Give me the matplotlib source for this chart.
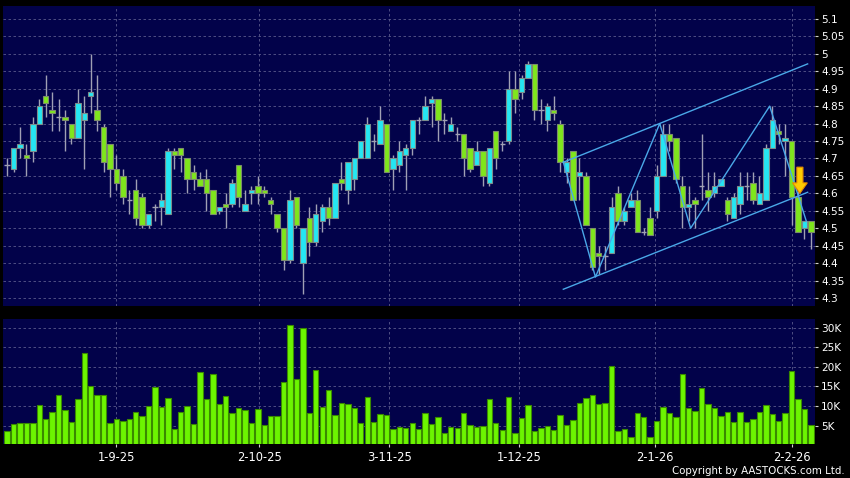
import numpy as np
import matplotlib.pyplot as plt
from matplotlib.patches import FancyArrow

# daily OHLC (126 sessions)
opens = [4.68, 4.67, 4.73, 4.71, 4.72, 4.80, 4.88, 4.84, 4.82, 4.82,
         4.80, 4.76, 4.81, 4.88, 4.84, 4.79, 4.74, 4.67, 4.65, 4.58,
         4.61, 4.59, 4.51, 4.56, 4.56, 4.54, 4.72, 4.73, 4.70, 4.66,
         4.64, 4.64, 4.61, 4.55, 4.57, 4.57, 4.68, 4.55, 4.60, 4.62,
         4.61, 4.58, 4.54, 4.50, 4.41, 4.59, 4.40, 4.53, 4.46, 4.52,
         4.56, 4.53, 4.64, 4.61, 4.64, 4.70, 4.70, 4.75, 4.74, 4.80,
         4.67, 4.68, 4.71, 4.73, 4.81, 4.81, 4.86, 4.87, 4.81, 4.78,
         4.77, 4.77, 4.73, 4.68, 4.72, 4.63, 4.78, 4.74, 4.75, 4.90,
         4.89, 4.93, 4.97, 4.84, 4.81, 4.84, 4.80, 4.66, 4.72, 4.65,
         4.65, 4.50, 4.43, 4.42, 4.43, 4.60, 4.52, 4.56, 4.58, 4.49,
         4.53, 4.55, 4.65, 4.77, 4.76, 4.62, 4.56, 4.58, 4.62, 4.61,
         4.60, 4.62, 4.58, 4.53, 4.57, 4.62, 4.63, 4.57, 4.58, 4.73,
         4.78, 4.75, 4.75, 4.59, 4.50, 4.52]
highs = [4.70, 4.73, 4.79, 4.74, 4.82, 4.87, 4.94, 4.89, 4.87, 4.84,
         4.80, 4.90, 4.88, 5.00, 4.94, 4.80, 4.74, 4.71, 4.67, 4.61,
         4.64, 4.60, 4.54, 4.57, 4.60, 4.73, 4.73, 4.73, 4.70, 4.68,
         4.66, 4.67, 4.61, 4.56, 4.60, 4.64, 4.68, 4.61, 4.62, 4.65,
         4.62, 4.59, 4.54, 4.50, 4.61, 4.59, 4.50, 4.56, 4.57, 4.57,
         4.59, 4.63, 4.69, 4.69, 4.70, 4.75, 4.82, 4.77, 4.85, 4.80,
         4.71, 4.75, 4.74, 4.81, 4.82, 4.88, 4.88, 4.87, 4.83, 4.82,
         4.79, 4.77, 4.73, 4.75, 4.72, 4.73, 4.78, 4.75, 4.95, 4.95,
         4.94, 4.98, 4.97, 4.87, 4.86, 4.88, 4.81, 4.70, 4.72, 4.70,
         4.66, 4.50, 4.45, 4.45, 4.59, 4.62, 4.56, 4.60, 4.61, 4.50,
         4.56, 4.68, 4.80, 4.80, 4.76, 4.65, 4.62, 4.59, 4.77, 4.66,
         4.66, 4.64, 4.59, 4.60, 4.66, 4.66, 4.66, 4.65, 4.74, 4.85,
         4.80, 4.80, 4.75, 4.62, 4.52, 4.52]
lows = [4.65, 4.66, 4.70, 4.65, 4.69, 4.80, 4.82, 4.78, 4.78, 4.72,
        4.74, 4.76, 4.67, 4.83, 4.78, 4.66, 4.59, 4.61, 4.57, 4.54,
        4.51, 4.50, 4.50, 4.52, 4.51, 4.54, 4.67, 4.66, 4.60, 4.61,
        4.62, 4.55, 4.54, 4.54, 4.50, 4.56, 4.56, 4.55, 4.57, 4.57,
        4.59, 4.54, 4.49, 4.38, 4.40, 4.50, 4.31, 4.42, 4.45, 4.49,
        4.51, 4.53, 4.61, 4.57, 4.61, 4.70, 4.70, 4.72, 4.74, 4.66,
        4.61, 4.66, 4.61, 4.71, 4.77, 4.81, 4.79, 4.75, 4.77, 4.78,
        4.75, 4.65, 4.66, 4.68, 4.62, 4.62, 4.67, 4.72, 4.74, 4.83,
        4.87, 4.93, 4.81, 4.80, 4.78, 4.81, 4.66, 4.63, 4.58, 4.58,
        4.51, 4.38, 4.37, 4.38, 4.43, 4.51, 4.51, 4.56, 4.49, 4.48,
        4.48, 4.53, 4.65, 4.72, 4.63, 4.50, 4.52, 4.50, 4.58, 4.55,
        4.59, 4.62, 4.52, 4.53, 4.54, 4.58, 4.57, 4.57, 4.58, 4.73,
        4.74, 4.65, 4.51, 4.49, 4.47, 4.44]
closes = [4.68, 4.73, 4.74, 4.70, 4.80, 4.85, 4.86, 4.83, 4.82, 4.81,
          4.76, 4.86, 4.83, 4.89, 4.81, 4.69, 4.67, 4.63, 4.59, 4.58,
          4.53, 4.51, 4.54, 4.56, 4.58, 4.72, 4.71, 4.71, 4.64, 4.64,
          4.62, 4.60, 4.54, 4.56, 4.56, 4.63, 4.59, 4.57, 4.61, 4.60,
          4.60, 4.57, 4.50, 4.41, 4.58, 4.51, 4.50, 4.46, 4.54, 4.56,
          4.53, 4.63, 4.63, 4.69, 4.70, 4.75, 4.80, 4.75, 4.81, 4.66,
          4.70, 4.72, 4.73, 4.81, 4.81, 4.85, 4.87, 4.81, 4.81, 4.80,
          4.77, 4.70, 4.67, 4.72, 4.65, 4.73, 4.70, 4.74, 4.90, 4.87,
          4.93, 4.97, 4.84, 4.84, 4.85, 4.83, 4.69, 4.69, 4.58, 4.66,
          4.51, 4.39, 4.42, 4.42, 4.56, 4.52, 4.55, 4.58, 4.49, 4.49,
          4.48, 4.65, 4.77, 4.75, 4.64, 4.56, 4.57, 4.57, 4.62, 4.59,
          4.62, 4.64, 4.54, 4.59, 4.62, 4.62, 4.58, 4.60, 4.73, 4.81,
          4.77, 4.76, 4.59, 4.49, 4.52, 4.49]
# volume in thousands
volumes = [3.6, 5.3, 5.6, 5.7, 5.6, 10.2, 6.8, 8.4, 12.7, 9.1,
           5.9, 11.7, 23.4, 15.2, 12.7, 12.8, 5.7, 6.8, 6.2, 6.6,
           8.5, 7.4, 10.1, 14.8, 9.8, 12.0, 4.1, 8.5, 10.0, 5.5,
           18.6, 11.7, 18.2, 10.5, 12.6, 8.3, 9.6, 9.0, 5.7, 9.3,
           5.1, 7.5, 7.5, 16.1, 30.7, 16.8, 29.8, 8.1, 19.3, 9.7,
           14.0, 7.6, 10.7, 10.4, 9.4, 5.6, 12.2, 5.8, 7.9, 7.6,
           4.2, 4.6, 4.4, 5.6, 4.2, 8.1, 5.3, 7.3, 3.0, 4.6,
           4.4, 8.1, 5.2, 4.6, 4.9, 11.8, 5.7, 3.9, 12.3, 3.1,
           6.9, 10.2, 3.6, 4.4, 4.8, 3.9, 7.6, 5.2, 6.3, 10.8,
           12.0, 12.9, 10.4, 10.7, 20.3, 3.6, 4.1, 2.1, 8.3, 7.3,
           2.2, 6.2, 9.8, 8.3, 7.2, 18.1, 9.5, 8.8, 14.5, 10.6,
           9.4, 7.5, 8.4, 5.8, 8.5, 5.8, 6.8, 8.5, 10.3, 8.0,
           6.1, 8.2, 18.9, 11.8, 9.2, 5.2]

date_labels = ['1-9-25', '2-10-25', '3-11-25', '1-12-25', '2-1-26', '2-2-26']
date_pos = [17, 39.2, 59.4, 79.6, 100.8, 122]

# drawn trend channel and zigzag
zigzag_x = [86.5, 91.5, 101.5, 106.3, 118.6, 124.3]
zigzag_y = [4.69, 4.36, 4.80, 4.50, 4.85, 4.52]
upper_x = [86.5, 124.5]
upper_y = [4.689, 4.971]
lower_x = [86.5, 124.5]
lower_y = [4.325, 4.603]
arrow_x, arrow_top, arrow_tip = 123.3, 4.675, 4.600

bg = '#02024a'
up_col = '#25e6f2'
down_col = '#7fe61c'
grid_kw = dict(color='#5a5a8c', linestyle=(0, (3, 3)), linewidth=0.6)

fig = plt.figure(figsize=(8.5, 4.78), dpi=100, facecolor='black')
ax = fig.add_axes([3.3 / 850, 1 - 306 / 478, 811.4 / 850, 300 / 478])
axv = fig.add_axes([3.3 / 850, 1 - 444 / 478, 811.4 / 850, 125 / 478], sharex=ax)

o = np.array(opens); h = np.array(highs); l = np.array(lows); c = np.array(closes)
x = np.arange(len(o))
w = 0.84

# candles
ax.vlines(x, l, h, color='#a0a0b4', linewidth=1, zorder=2)
up = c > o
dn = c < o
eq = c == o
ax.bar(x[up], (c - o)[up], bottom=o[up], width=w, color=up_col,
       edgecolor='#7c8c8c', linewidth=0.8, zorder=3)
ax.bar(x[dn], (o - c)[dn], bottom=c[dn], width=w, color=down_col,
       edgecolor='#7c8c6c', linewidth=0.8, zorder=3)
ax.hlines(c[eq], x[eq] - w / 2, x[eq] + w / 2, color='#a0a0b4', linewidth=1, zorder=3)

ax.plot(upper_x, upper_y, color='#4aa8e8', linewidth=1, zorder=4)
ax.plot(lower_x, lower_y, color='#4aa8e8', linewidth=1, zorder=4)
ax.plot(zigzag_x, zigzag_y, color='#4aa8e8', linewidth=1, zorder=4)
ax.add_patch(FancyArrow(arrow_x, arrow_top, 0, arrow_tip - arrow_top, width=0.95,
                        head_width=2.3, head_length=0.03, length_includes_head=True,
                        facecolor='#ffcc00', edgecolor='#e58a00', linewidth=0.8, zorder=5))

# volume
axv.bar(x, volumes, width=w, color='#6cf500', edgecolor='#3a8a00', linewidth=0.8, zorder=3)

ptick = np.round(np.arange(4.3, 5.1001, 0.05), 2)
ax.set_ylim(4.277, 5.137)
ax.set_yticks(ptick, ['%g' % v for v in ptick])
vtick = [5, 10, 15, 20, 25, 30]
axv.set_ylim(0.3, 32.2)
axv.set_yticks(vtick, ['%dK' % v for v in vtick])
ax.set_xlim(-0.6, 125.6)
axv.set_xticks(date_pos, date_labels)

for a in (ax, axv):
    a.set_facecolor(bg)
    a.set_axisbelow(True)
    for s in a.spines.values():
        s.set_visible(False)
    a.yaxis.tick_right()
    a.tick_params(axis='y', colors='#d0d0d0', labelcolor='white', labelsize=7.6,
                  length=2.5, pad=2)
    a.grid(True, **grid_kw)
ax.tick_params(axis='x', length=0, labelbottom=False)
axv.tick_params(axis='x', colors='#d0d0d0', labelcolor='white', labelsize=8.3,
                length=2.2, pad=3)

fig.text(845 / 850, 1 - 471.5 / 478, 'Copyright by AASTOCKS.com Ltd.', ha='right',
         va='center', color='white', fontsize=7.4)

fig.savefig('out.png', dpi=100, facecolor='black')
